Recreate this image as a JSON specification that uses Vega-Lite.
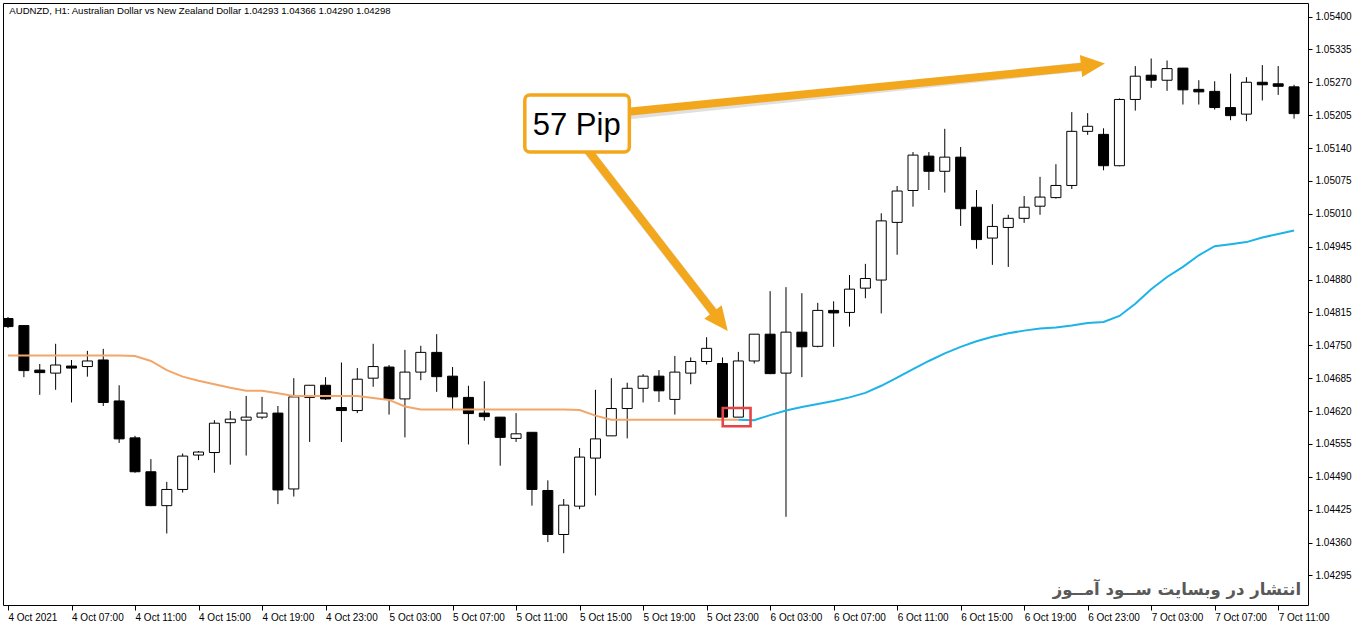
{
  "$schema": "https://vega.github.io/schema/vega-lite/v6.json",
  "width": 1305,
  "height": 602,
  "autosize": {"type": "none"},
  "padding": {"left": 3, "top": 3, "right": 54, "bottom": 23},
  "background": "white",
  "config": {"view": {"stroke": "#000", "strokeWidth": 1}, "font": "Liberation Sans"},
  "datasets": {
    "candles": [
      {"t":"2021-10-04T03:00","o":1.04803,"h":1.04806,"l":1.04784,"c":1.04787},
      {"t":"2021-10-04T04:00","o":1.04789,"h":1.04790,"l":1.04687,"c":1.04700},
      {"t":"2021-10-04T05:00","o":1.04701,"h":1.04713,"l":1.04652,"c":1.04696},
      {"t":"2021-10-04T06:00","o":1.04695,"h":1.04753,"l":1.04662,"c":1.04711},
      {"t":"2021-10-04T07:00","o":1.04709,"h":1.04721,"l":1.04637,"c":1.04705},
      {"t":"2021-10-04T08:00","o":1.04708,"h":1.04739,"l":1.04688,"c":1.04719},
      {"t":"2021-10-04T09:00","o":1.04721,"h":1.04743,"l":1.04630,"c":1.04637},
      {"t":"2021-10-04T10:00","o":1.04640,"h":1.04671,"l":1.04557,"c":1.04565},
      {"t":"2021-10-04T11:00","o":1.04567,"h":1.04571,"l":1.04498,"c":1.04500},
      {"t":"2021-10-04T12:00","o":1.04500,"h":1.04525,"l":1.04432,"c":1.04433},
      {"t":"2021-10-04T13:00","o":1.04433,"h":1.04480,"l":1.04378,"c":1.04465},
      {"t":"2021-10-04T14:00","o":1.04465,"h":1.04536,"l":1.04459,"c":1.04531},
      {"t":"2021-10-04T15:00","o":1.04533,"h":1.04541,"l":1.04523,"c":1.04539},
      {"t":"2021-10-04T16:00","o":1.04538,"h":1.04602,"l":1.04498,"c":1.04596},
      {"t":"2021-10-04T17:00","o":1.04597,"h":1.04620,"l":1.04514,"c":1.04604},
      {"t":"2021-10-04T18:00","o":1.04602,"h":1.04650,"l":1.04532,"c":1.04608},
      {"t":"2021-10-04T19:00","o":1.04608,"h":1.04648,"l":1.04604,"c":1.04616},
      {"t":"2021-10-04T20:00","o":1.04616,"h":1.04630,"l":1.04436,"c":1.04464},
      {"t":"2021-10-04T21:00","o":1.04466,"h":1.04685,"l":1.04451,"c":1.04648},
      {"t":"2021-10-04T22:00","o":1.04647,"h":1.04671,"l":1.04559,"c":1.04671},
      {"t":"2021-10-04T23:00","o":1.04671,"h":1.04687,"l":1.04642,"c":1.04644},
      {"t":"2021-10-05T00:00","o":1.04627,"h":1.04716,"l":1.04559,"c":1.04621},
      {"t":"2021-10-05T01:00","o":1.04621,"h":1.04705,"l":1.04616,"c":1.04683},
      {"t":"2021-10-05T02:00","o":1.04685,"h":1.04753,"l":1.04668,"c":1.04708},
      {"t":"2021-10-05T03:00","o":1.04707,"h":1.04711,"l":1.04613,"c":1.04644},
      {"t":"2021-10-05T04:00","o":1.04644,"h":1.04741,"l":1.04568,"c":1.04697},
      {"t":"2021-10-05T05:00","o":1.04697,"h":1.04749,"l":1.04681,"c":1.04736},
      {"t":"2021-10-05T06:00","o":1.04736,"h":1.04772,"l":1.04658,"c":1.04688},
      {"t":"2021-10-05T07:00","o":1.04689,"h":1.04707,"l":1.04622,"c":1.04648},
      {"t":"2021-10-05T08:00","o":1.04647,"h":1.04670,"l":1.04554,"c":1.04615},
      {"t":"2021-10-05T09:00","o":1.04616,"h":1.04679,"l":1.04601,"c":1.04609},
      {"t":"2021-10-05T10:00","o":1.04608,"h":1.04608,"l":1.04512,"c":1.04568},
      {"t":"2021-10-05T11:00","o":1.04566,"h":1.04616,"l":1.04559,"c":1.04575},
      {"t":"2021-10-05T12:00","o":1.04578,"h":1.04578,"l":1.04433,"c":1.04465},
      {"t":"2021-10-05T13:00","o":1.04463,"h":1.04483,"l":1.04361,"c":1.04376},
      {"t":"2021-10-05T14:00","o":1.04376,"h":1.04446,"l":1.04339,"c":1.04434},
      {"t":"2021-10-05T15:00","o":1.04432,"h":1.04547,"l":1.04426,"c":1.04529},
      {"t":"2021-10-05T16:00","o":1.04527,"h":1.04662,"l":1.04453,"c":1.04565},
      {"t":"2021-10-05T17:00","o":1.04571,"h":1.04685,"l":1.04571,"c":1.04625},
      {"t":"2021-10-05T18:00","o":1.04625,"h":1.04676,"l":1.04566,"c":1.04665},
      {"t":"2021-10-05T19:00","o":1.04665,"h":1.04693,"l":1.04637,"c":1.04689},
      {"t":"2021-10-05T20:00","o":1.04689,"h":1.04701,"l":1.04638,"c":1.04660},
      {"t":"2021-10-05T21:00","o":1.04643,"h":1.04729,"l":1.04613,"c":1.04697},
      {"t":"2021-10-05T22:00","o":1.04695,"h":1.04726,"l":1.04673,"c":1.04718},
      {"t":"2021-10-05T23:00","o":1.04718,"h":1.04766,"l":1.04712,"c":1.04744},
      {"t":"2021-10-06T00:00","o":1.04714,"h":1.04726,"l":1.04608,"c":1.04608},
      {"t":"2021-10-06T01:00","o":1.04608,"h":1.04737,"l":1.04608,"c":1.04719},
      {"t":"2021-10-06T02:00","o":1.04719,"h":1.04772,"l":1.04714,"c":1.04772},
      {"t":"2021-10-06T03:00","o":1.04772,"h":1.04857,"l":1.04693,"c":1.04694},
      {"t":"2021-10-06T04:00","o":1.04695,"h":1.04865,"l":1.04411,"c":1.04776},
      {"t":"2021-10-06T05:00","o":1.04776,"h":1.04853,"l":1.04687,"c":1.04747},
      {"t":"2021-10-06T06:00","o":1.04748,"h":1.04834,"l":1.04746,"c":1.04819},
      {"t":"2021-10-06T07:00","o":1.04819,"h":1.04837,"l":1.04747,"c":1.04814},
      {"t":"2021-10-06T08:00","o":1.04815,"h":1.04889,"l":1.04787,"c":1.04861},
      {"t":"2021-10-06T09:00","o":1.04863,"h":1.04911,"l":1.04843,"c":1.04882},
      {"t":"2021-10-06T10:00","o":1.04879,"h":1.05011,"l":1.04813,"c":1.04996},
      {"t":"2021-10-06T11:00","o":1.04993,"h":1.05065,"l":1.04929,"c":1.05055},
      {"t":"2021-10-06T12:00","o":1.05056,"h":1.05132,"l":1.05024,"c":1.05126},
      {"t":"2021-10-06T13:00","o":1.05124,"h":1.05132,"l":1.05057,"c":1.05094},
      {"t":"2021-10-06T14:00","o":1.05094,"h":1.05178,"l":1.05052,"c":1.05122},
      {"t":"2021-10-06T15:00","o":1.05122,"h":1.05142,"l":1.04986,"c":1.05020},
      {"t":"2021-10-06T16:00","o":1.05023,"h":1.05057,"l":1.04941,"c":1.04959},
      {"t":"2021-10-06T17:00","o":1.04962,"h":1.05029,"l":1.04909,"c":1.04985},
      {"t":"2021-10-06T18:00","o":1.04983,"h":1.05008,"l":1.04905,"c":1.05001},
      {"t":"2021-10-06T19:00","o":1.05001,"h":1.05045,"l":1.04992,"c":1.05023},
      {"t":"2021-10-06T20:00","o":1.05025,"h":1.05083,"l":1.05008,"c":1.05043},
      {"t":"2021-10-06T21:00","o":1.05042,"h":1.05108,"l":1.05040,"c":1.05066},
      {"t":"2021-10-06T22:00","o":1.05066,"h":1.05211,"l":1.05059,"c":1.05173},
      {"t":"2021-10-06T23:00","o":1.05173,"h":1.05209,"l":1.05166,"c":1.05183},
      {"t":"2021-10-07T00:00","o":1.05167,"h":1.05179,"l":1.05096,"c":1.05105},
      {"t":"2021-10-07T01:00","o":1.05105,"h":1.05238,"l":1.05104,"c":1.05236},
      {"t":"2021-10-07T02:00","o":1.05236,"h":1.05302,"l":1.05214,"c":1.05282},
      {"t":"2021-10-07T03:00","o":1.05284,"h":1.05317,"l":1.05259,"c":1.05274},
      {"t":"2021-10-07T04:00","o":1.05274,"h":1.05313,"l":1.05253,"c":1.05297},
      {"t":"2021-10-07T05:00","o":1.05298,"h":1.05298,"l":1.05226,"c":1.05255},
      {"t":"2021-10-07T06:00","o":1.05256,"h":1.05274,"l":1.05226,"c":1.05251},
      {"t":"2021-10-07T07:00","o":1.05252,"h":1.05272,"l":1.05216,"c":1.05220},
      {"t":"2021-10-07T08:00","o":1.05220,"h":1.05287,"l":1.05195,"c":1.05204},
      {"t":"2021-10-07T09:00","o":1.05207,"h":1.05280,"l":1.05193,"c":1.05270},
      {"t":"2021-10-07T10:00","o":1.05270,"h":1.05304,"l":1.05234,"c":1.05265},
      {"t":"2021-10-07T11:00","o":1.05267,"h":1.05302,"l":1.05245,"c":1.05262},
      {"t":"2021-10-07T12:00","o":1.05261,"h":1.05265,"l":1.05198,"c":1.05208}
    ],
    "ma": [
      {"s":"a","t":"2021-10-04T03:00","v":1.0473},
      {"s":"a","t":"2021-10-04T04:00","v":1.0473},
      {"s":"a","t":"2021-10-04T05:00","v":1.0473},
      {"s":"a","t":"2021-10-04T06:00","v":1.0473},
      {"s":"a","t":"2021-10-04T07:00","v":1.0473},
      {"s":"a","t":"2021-10-04T08:00","v":1.0473},
      {"s":"a","t":"2021-10-04T09:00","v":1.0473},
      {"s":"a","t":"2021-10-04T10:00","v":1.0473},
      {"s":"a","t":"2021-10-04T11:00","v":1.04729},
      {"s":"a","t":"2021-10-04T12:00","v":1.04719},
      {"s":"a","t":"2021-10-04T13:00","v":1.04701},
      {"s":"a","t":"2021-10-04T14:00","v":1.04688},
      {"s":"a","t":"2021-10-04T15:00","v":1.0468},
      {"s":"a","t":"2021-10-04T16:00","v":1.04673},
      {"s":"a","t":"2021-10-04T17:00","v":1.04666},
      {"s":"a","t":"2021-10-04T18:00","v":1.0466},
      {"s":"a","t":"2021-10-04T19:00","v":1.0466},
      {"s":"a","t":"2021-10-04T20:00","v":1.04655},
      {"s":"a","t":"2021-10-04T21:00","v":1.0465},
      {"s":"a","t":"2021-10-04T22:00","v":1.0465},
      {"s":"a","t":"2021-10-04T23:00","v":1.0465},
      {"s":"a","t":"2021-10-05T00:00","v":1.0465},
      {"s":"a","t":"2021-10-05T01:00","v":1.0465},
      {"s":"a","t":"2021-10-05T02:00","v":1.04646},
      {"s":"a","t":"2021-10-05T03:00","v":1.04642},
      {"s":"a","t":"2021-10-05T04:00","v":1.04629},
      {"s":"a","t":"2021-10-05T05:00","v":1.04623},
      {"s":"a","t":"2021-10-05T06:00","v":1.04623},
      {"s":"a","t":"2021-10-05T07:00","v":1.04623},
      {"s":"a","t":"2021-10-05T08:00","v":1.04623},
      {"s":"a","t":"2021-10-05T09:00","v":1.04623},
      {"s":"a","t":"2021-10-05T10:00","v":1.04623},
      {"s":"a","t":"2021-10-05T11:00","v":1.04623},
      {"s":"a","t":"2021-10-05T12:00","v":1.04623},
      {"s":"a","t":"2021-10-05T13:00","v":1.04623},
      {"s":"a","t":"2021-10-05T14:00","v":1.04623},
      {"s":"a","t":"2021-10-05T15:00","v":1.04622},
      {"s":"a","t":"2021-10-05T16:00","v":1.04611},
      {"s":"a","t":"2021-10-05T17:00","v":1.04603},
      {"s":"a","t":"2021-10-05T18:00","v":1.04603},
      {"s":"a","t":"2021-10-05T19:00","v":1.04603},
      {"s":"a","t":"2021-10-05T20:00","v":1.04603},
      {"s":"a","t":"2021-10-05T21:00","v":1.04603},
      {"s":"a","t":"2021-10-05T22:00","v":1.04603},
      {"s":"a","t":"2021-10-05T23:00","v":1.04603},
      {"s":"a","t":"2021-10-06T00:00","v":1.04603},
      {"s":"a","t":"2021-10-06T01:00","v":1.04603},
      {"s":"b","t":"2021-10-06T01:00","v":1.04603},
      {"s":"b","t":"2021-10-06T02:00","v":1.04602},
      {"s":"b","t":"2021-10-06T03:00","v":1.04612},
      {"s":"b","t":"2021-10-06T04:00","v":1.04621},
      {"s":"b","t":"2021-10-06T05:00","v":1.04628},
      {"s":"b","t":"2021-10-06T06:00","v":1.04634},
      {"s":"b","t":"2021-10-06T07:00","v":1.0464},
      {"s":"b","t":"2021-10-06T08:00","v":1.04647},
      {"s":"b","t":"2021-10-06T09:00","v":1.04656},
      {"s":"b","t":"2021-10-06T10:00","v":1.0467},
      {"s":"b","t":"2021-10-06T11:00","v":1.04686},
      {"s":"b","t":"2021-10-06T12:00","v":1.04703},
      {"s":"b","t":"2021-10-06T13:00","v":1.04719},
      {"s":"b","t":"2021-10-06T14:00","v":1.04734},
      {"s":"b","t":"2021-10-06T15:00","v":1.04747},
      {"s":"b","t":"2021-10-06T16:00","v":1.04758},
      {"s":"b","t":"2021-10-06T17:00","v":1.04767},
      {"s":"b","t":"2021-10-06T18:00","v":1.04774},
      {"s":"b","t":"2021-10-06T19:00","v":1.04779},
      {"s":"b","t":"2021-10-06T20:00","v":1.04783},
      {"s":"b","t":"2021-10-06T21:00","v":1.04785},
      {"s":"b","t":"2021-10-06T22:00","v":1.04789},
      {"s":"b","t":"2021-10-06T23:00","v":1.04794},
      {"s":"b","t":"2021-10-07T00:00","v":1.04796},
      {"s":"b","t":"2021-10-07T01:00","v":1.04808},
      {"s":"b","t":"2021-10-07T02:00","v":1.04832},
      {"s":"b","t":"2021-10-07T03:00","v":1.04861},
      {"s":"b","t":"2021-10-07T04:00","v":1.04885},
      {"s":"b","t":"2021-10-07T05:00","v":1.04905},
      {"s":"b","t":"2021-10-07T06:00","v":1.04928},
      {"s":"b","t":"2021-10-07T07:00","v":1.04946},
      {"s":"b","t":"2021-10-07T08:00","v":1.0495},
      {"s":"b","t":"2021-10-07T09:00","v":1.04954},
      {"s":"b","t":"2021-10-07T10:00","v":1.04963},
      {"s":"b","t":"2021-10-07T11:00","v":1.0497},
      {"s":"b","t":"2021-10-07T12:00","v":1.04977}
    ],
    "redbox": [{"t1":"2021-10-06T00:01","t2":"2021-10-06T01:46","p1":1.04626,"p2":1.0459}],
    "shafts": [
      {"t1":"2021-10-05T17:35","p1":1.052102,"t2":"2021-10-06T22:50","p2":1.053011},
      {"t1":"2021-10-05T15:16","p1":1.05146,"t2":"2021-10-05T23:31","p2":1.048119}
    ],
    "head1": [{"t":"2021-10-06T23:20","p":1.053047}],
    "head2": [{"t":"2021-10-05T23:52","p":1.04797}],
    "callout": [{"t1":"2021-10-05T11:33","t2":"2021-10-05T18:08","p1":1.052448,"p2":1.051321,"tm":"2021-10-05T14:49","pm":1.051657,"label":"57 Pip"}],
    "title": [{"t":"2021-10-04T03:05","p":1.054049,"label":"AUDNZD, H1:  Australian Dollar vs New Zealand Dollar  1.04293 1.04366 1.04290 1.04298"}],
    "mark": [{"t":"2021-10-07T12:27","p":1.042563,"label":"انتشار در وبسایت  ســود آمــوز"}]
  },
  "layer": [
    {
      "data": {"name": "candles"},
      "mark": {"type": "rule", "color": "#000", "strokeWidth": 1, "clip": true},
      "encoding": {
        "x": {
          "field": "t", "type": "temporal",
          "scale": {"domain": [{"year": 2021, "month": 10, "date": 4, "hours": 3}, {"year": 2021, "month": 10, "date": 7, "hours": 12, "minutes": 33, "seconds": 45}]},
          "axis": {
            "title": null, "domain": false, "grid": false, "tickCount": 40,
            "values": [
              {"year": 2021, "month": 10, "date": 4, "hours": 3}, {"year": 2021, "month": 10, "date": 4, "hours": 7}, {"year": 2021, "month": 10, "date": 4, "hours": 11}, {"year": 2021, "month": 10, "date": 4, "hours": 15}, {"year": 2021, "month": 10, "date": 4, "hours": 19}, {"year": 2021, "month": 10, "date": 4, "hours": 23},
              {"year": 2021, "month": 10, "date": 5, "hours": 3}, {"year": 2021, "month": 10, "date": 5, "hours": 7}, {"year": 2021, "month": 10, "date": 5, "hours": 11}, {"year": 2021, "month": 10, "date": 5, "hours": 15}, {"year": 2021, "month": 10, "date": 5, "hours": 19}, {"year": 2021, "month": 10, "date": 5, "hours": 23},
              {"year": 2021, "month": 10, "date": 6, "hours": 3}, {"year": 2021, "month": 10, "date": 6, "hours": 7}, {"year": 2021, "month": 10, "date": 6, "hours": 11}, {"year": 2021, "month": 10, "date": 6, "hours": 15}, {"year": 2021, "month": 10, "date": 6, "hours": 19}, {"year": 2021, "month": 10, "date": 6, "hours": 23},
              {"year": 2021, "month": 10, "date": 7, "hours": 3}, {"year": 2021, "month": 10, "date": 7, "hours": 7}, {"year": 2021, "month": 10, "date": 7, "hours": 11}
            ],
            "labelExpr": "date(datum.value) == 4 && hours(datum.value) == 3 ? '4 Oct 2021' : timeFormat(datum.value, '%-d %b %H:%M')",
            "labelAlign": "left", "labelBaseline": "top", "labelPadding": 2, "tickSize": 5,
            "labelFont": "Liberation Sans", "labelFontSize": 10, "labelColor": "#000", "tickColor": "#000",
            "labelBound": false, "labelOverlap": false, "labelFlush": false
          }
        },
        "y": {
          "field": "l", "type": "quantitative",
          "scale": {"domain": [1.042366, 1.054267], "zero": false, "nice": false},
          "axis": {
            "orient": "right", "title": null, "domain": false, "grid": false, "tickCount": 40,
            "values": [1.04295, 1.0436, 1.04425, 1.0449, 1.04555, 1.0462, 1.04685, 1.0475, 1.04815, 1.0488, 1.04945, 1.0501, 1.05075, 1.0514, 1.05205, 1.0527, 1.05335, 1.054],
            "format": ".5f", "tickSize": 4, "labelPadding": 3,
            "labelFont": "Liberation Sans", "labelFontSize": 10, "labelColor": "#000", "tickColor": "#000",
            "labelBound": false, "labelOverlap": false, "labelFlush": false
          }
        },
        "y2": {"field": "h"}
      }
    },
    {
      "data": {"name": "candles"},
      "mark": {"type": "bar", "width": 10, "stroke": "#000", "strokeWidth": 1, "clip": true},
      "encoding": {
        "x": {"field": "t", "type": "temporal"},
        "y": {"field": "o", "type": "quantitative"},
        "y2": {"field": "c"},
        "fill": {"condition": {"test": "datum.c < datum.o", "value": "#000"}, "value": "#fff"}
      }
    },
    {
      "data": {"name": "ma"},
      "mark": {"type": "line", "strokeWidth": 2, "clip": true},
      "encoding": {
        "x": {"field": "t", "type": "temporal"},
        "y": {"field": "v", "type": "quantitative"},
        "color": {"field": "s", "type": "nominal", "scale": {"domain": ["a", "b"], "range": ["#f2a66a", "#1db3e8"]}, "legend": null}
      }
    },
    {
      "data": {"name": "redbox"},
      "mark": {"type": "rect", "fill": null, "fillOpacity": 0, "stroke": "#e64545", "strokeWidth": 2.6},
      "encoding": {
        "x": {"field": "t1", "type": "temporal"},
        "x2": {"field": "t2"},
        "y": {"field": "p1", "type": "quantitative"},
        "y2": {"field": "p2"}
      }
    },
    {
      "data": {"name": "shafts"},
      "mark": {"type": "rule", "color": "#000", "opacity": 0.12, "strokeWidth": 9, "strokeCap": "butt", "xOffset": 2, "yOffset": 3},
      "encoding": {
        "x": {"field": "t1", "type": "temporal"},
        "x2": {"field": "t2"},
        "y": {"field": "p1", "type": "quantitative"},
        "y2": {"field": "p2"}
      }
    },
    {
      "data": {"name": "shafts"},
      "mark": {"type": "rule", "color": "#f3a71c", "strokeWidth": 8, "strokeCap": "butt"},
      "encoding": {
        "x": {"field": "t1", "type": "temporal"},
        "x2": {"field": "t2"},
        "y": {"field": "p1", "type": "quantitative"},
        "y2": {"field": "p2"}
      }
    },
    {
      "data": {"name": "head1"},
      "mark": {"type": "point", "shape": "M1,0L-1,-0.92L-1,0.92Z", "size": 576, "angle": 354, "filled": true, "color": "#f3a71c", "opacity": 1},
      "encoding": {
        "x": {"field": "t", "type": "temporal"},
        "y": {"field": "p", "type": "quantitative"}
      }
    },
    {
      "data": {"name": "head2"},
      "mark": {"type": "point", "shape": "M1,0L-1,-0.92L-1,0.92Z", "size": 576, "angle": 52, "filled": true, "color": "#f3a71c", "opacity": 1},
      "encoding": {
        "x": {"field": "t", "type": "temporal"},
        "y": {"field": "p", "type": "quantitative"}
      }
    },
    {
      "data": {"name": "callout"},
      "mark": {"type": "rect", "fill": "#000", "opacity": 0.15, "cornerRadius": 5, "xOffset": 3, "yOffset": 4},
      "encoding": {
        "x": {"field": "t1", "type": "temporal"},
        "x2": {"field": "t2"},
        "y": {"field": "p1", "type": "quantitative"},
        "y2": {"field": "p2"}
      }
    },
    {
      "data": {"name": "callout"},
      "mark": {"type": "rect", "fill": "#fff", "stroke": "#f3a71c", "strokeWidth": 3.5, "cornerRadius": 5},
      "encoding": {
        "x": {"field": "t1", "type": "temporal"},
        "x2": {"field": "t2"},
        "y": {"field": "p1", "type": "quantitative"},
        "y2": {"field": "p2"}
      }
    },
    {
      "data": {"name": "callout"},
      "mark": {"type": "text", "font": "Liberation Sans", "fontSize": 31, "align": "center", "baseline": "alphabetic", "color": "#000"},
      "encoding": {
        "x": {"field": "tm", "type": "temporal"},
        "y": {"field": "pm", "type": "quantitative"},
        "text": {"field": "label"}
      }
    },
    {
      "data": {"name": "title"},
      "mark": {"type": "text", "font": "Liberation Sans", "fontSize": 9.6, "align": "left", "baseline": "alphabetic", "color": "#000"},
      "encoding": {
        "x": {"field": "t", "type": "temporal"},
        "y": {"field": "p", "type": "quantitative"},
        "text": {"field": "label"}
      }
    },
    {
      "data": {"name": "mark"},
      "mark": {"type": "text", "font": "DejaVu Sans", "fontWeight": "bold", "fontSize": 16.5, "align": "right", "baseline": "alphabetic", "color": "#595959"},
      "encoding": {
        "x": {"field": "t", "type": "temporal"},
        "y": {"field": "p", "type": "quantitative"},
        "text": {"field": "label"}
      }
    }
  ]
}
